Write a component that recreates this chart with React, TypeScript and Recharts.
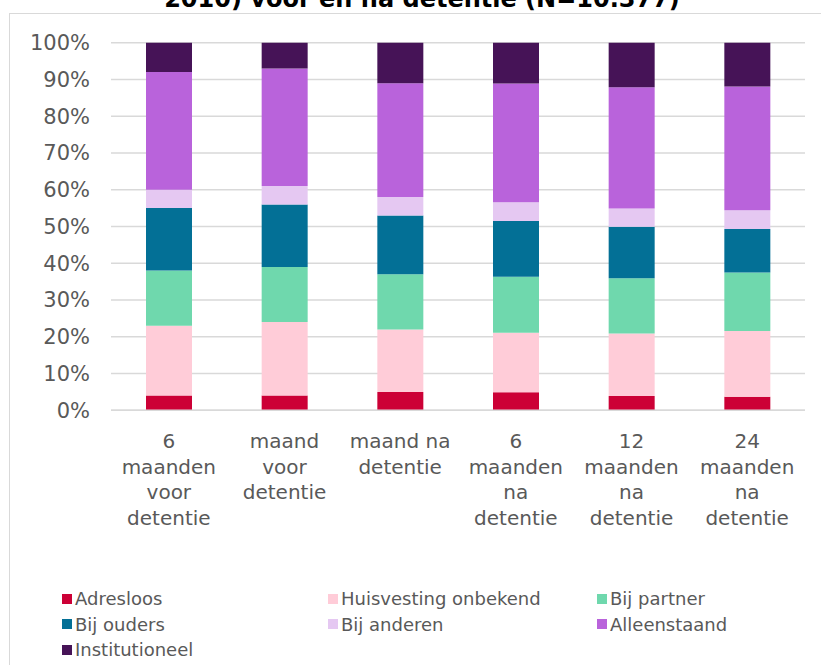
import { BarChart, Bar, XAxis, YAxis, CartesianGrid, Legend } from 'recharts'

// woonsituatie per meetmoment, in procenten
const categories = ['6 maanden voor detentie', 'maand voor detentie', 'maand na detentie', '6 maanden na detentie', '12 maanden na detentie', '24 maanden na detentie']
const tickLines = [
  ['6', 'maanden', 'voor', 'detentie'],
  ['maand', 'voor', 'detentie'],
  ['maand na', 'detentie'],
  ['6', 'maanden', 'na', 'detentie'],
  ['12', 'maanden', 'na', 'detentie'],
  ['24', 'maanden', 'na', 'detentie'],
]
const adresloos = [4, 4, 5, 4.9, 3.9, 3.7]
const huisvestingOnbekend = [19, 20, 17, 16.2, 17, 17.9]
const bijPartner = [15, 15, 15, 15.2, 15, 15.9]
const bijOuders = [17, 17, 16, 15.2, 14, 11.8]
const bijAnderen = [5, 5, 5, 5.1, 5, 5.1]
const alleenstaand = [32, 32, 31, 32.3, 33, 33.7]
const institutioneel = [8, 7, 11, 11.1, 12.1, 11.9]
const yTicks = [0, 10, 20, 30, 40, 50, 60, 70, 80, 90, 100]

const series = [
  { key: 'adresloos', name: 'Adresloos', color: '#cc0036' },
  { key: 'huisvesting', name: 'Huisvesting onbekend', color: '#ffccd8' },
  { key: 'partner', name: 'Bij partner', color: '#6fd8ad' },
  { key: 'ouders', name: 'Bij ouders', color: '#037096' },
  { key: 'anderen', name: 'Bij anderen', color: '#e5c8f2' },
  { key: 'alleen', name: 'Alleenstaand', color: '#b963db' },
  { key: 'inst', name: 'Institutioneel', color: '#461357' },
]

const data = categories.map((c, i) => ({
  cat: c,
  adresloos: adresloos[i],
  huisvesting: huisvestingOnbekend[i],
  partner: bijPartner[i],
  ouders: bijOuders[i],
  anderen: bijAnderen[i],
  alleen: alleenstaand[i],
  inst: institutioneel[i],
}))

const FONT = "'DejaVu Sans', Verdana, sans-serif"

function XTick(props: any) {
  const { x, y, index } = props
  const lines = tickLines[index] || []
  return (
    <text x={x} y={y + 38} textAnchor="middle" fill="#595959" fontSize={20} fontFamily={FONT}>
      {lines.map((l, i) => (
        <tspan key={i} x={x} dy={i === 0 ? 0 : 25.5}>{l}</tspan>
      ))}
    </text>
  )
}

// legend in the same order as the stack, not alphabetical
function LegendBox() {
  return (
    <div style={{ display: 'grid', gridTemplateColumns: '266px 269px 200px', paddingLeft: 62, height: 76, fontFamily: FONT, fontSize: 18, color: '#595959' }}>
      {series.map(s => (
        <div key={s.key} style={{ display: 'flex', alignItems: 'center', height: 25.5, whiteSpace: 'nowrap' }}>
          <span style={{ width: 10, height: 10, background: s.color, marginRight: 3, flex: 'none' }} />
          {s.name}
        </div>
      ))}
    </div>
  )
}

export default function App() {
  return (
    <div style={{ position: 'absolute', left: 0, top: 0, width: 821, height: 665, overflow: 'hidden', background: '#fff', fontFamily: FONT }}>
      <div style={{ position: 'absolute', left: 0, width: 844, top: -13, textAlign: 'center', fontSize: 24, lineHeight: '24px', fontWeight: 'bold', color: '#000', whiteSpace: 'nowrap' }}>
        2010) voor en na detentie (N=10.377)
      </div>
      <div style={{ position: 'absolute', left: 9, top: 13, width: 840, height: 700, border: '1.5px solid #d9d9d9', boxSizing: 'border-box' }} />
      <div style={{ position: 'absolute', left: 0, top: 0 }}>
        <BarChart width={821} height={665} data={data} margin={{ top: 42.7, right: 16, bottom: 3, left: 0 }} barSize={46}>
          <CartesianGrid vertical={false} stroke="#d9d9d9" strokeWidth={1.5} />
          <XAxis dataKey="cat" height={175.7} axisLine={{ stroke: '#d9d9d9', strokeWidth: 1.5 }} tickLine={false} tickSize={0} tickMargin={0} interval={0} tick={<XTick />} />
          <YAxis width={111} domain={[0, 100]} ticks={yTicks} axisLine={false} tickLine={false} tickSize={0} tickMargin={21} tickFormatter={(v: number) => `${v}%`} tick={{ fill: '#595959', fontSize: 21, fontFamily: FONT }} />
          <Legend verticalAlign="bottom" content={<LegendBox />} />
          {series.map(s => (
            <Bar key={s.key} dataKey={s.key} name={s.name} stackId="a" fill={s.color} isAnimationActive={false} />
          ))}
        </BarChart>
      </div>
    </div>
  )
}
